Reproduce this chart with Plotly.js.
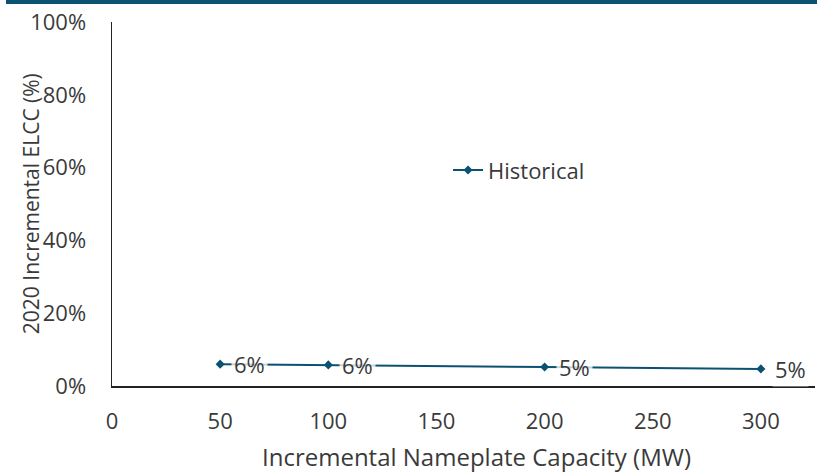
<!DOCTYPE html>
<html>
<head>
<meta charset="utf-8">
<script src="https://cdn.plot.ly/plotly-3.0.1.min.js"></script>
<style>
  html, body { margin: 0; padding: 0; background: #fff; }
  #wrap { position: relative; width: 817px; height: 472px; }
  #topbar { position: absolute; left: 6px; top: 0; width: 811px; height: 4px; background: #0b5272; z-index: 5; }
  #chart { width: 817px; height: 472px; }
</style>
</head>
<body>
<div id="wrap">
  <div id="topbar"></div>
  <div id="chart"></div>
</div>
<script>
// Incremental ELCC by added nameplate capacity
const capacityMW = [50, 100, 200, 300];
const elccPct = [6.0, 5.8, 5.2, 4.7];
const seriesName = 'Historical';
const xTicks = [0, 50, 100, 150, 200, 250, 300];
const yTicks = [0, 20, 40, 60, 80, 100];
const yTickLabels = ['0%', '20%', '40%', '60%', '80%', '100%'];

const lineColor = '#0b5272';
const textColor = '#3a3a3a';
const fontFamily = '"Open Sans", "Noto Sans", sans-serif';

const trace = {
  x: capacityMW,
  y: elccPct,
  name: seriesName,
  type: 'scatter',
  mode: 'lines+markers',
  line: { color: lineColor, width: 2 },
  marker: { symbol: 'diamond', size: 7, color: lineColor },
  showlegend: true
};

// value labels sit to the right of each point on a translucent white box
const valueLabels = capacityMW.map((x, i) => ({
  x: x,
  y: elccPct[i],
  xref: 'x',
  yref: 'y',
  text: Math.round(elccPct[i]) + '%',
  showarrow: false,
  xanchor: 'left',
  yanchor: 'middle',
  xshift: 11,
  bgcolor: 'rgba(255,255,255,0.75)',
  borderpad: 2,
  font: { family: fontFamily, size: 22, color: textColor }
}));

const titles = [
  {
    text: 'Incremental Nameplate Capacity (MW)',
    xref: 'paper', yref: 'paper',
    x: 0.519, y: -0.193,
    xanchor: 'center', yanchor: 'middle',
    showarrow: false,
    font: { family: fontFamily, size: 24, color: textColor }
  },
  {
    text: '2020 Incremental ELCC (%)',
    xref: 'paper', yref: 'paper',
    x: -0.115, y: 0.5,
    xanchor: 'center', yanchor: 'middle',
    textangle: -90,
    showarrow: false,
    font: { family: fontFamily, size: 21, color: textColor }
  }
];

const layout = {
  width: 817,
  height: 472,
  margin: { l: 112, r: 2, t: 22, b: 86 },
  paper_bgcolor: '#ffffff',
  plot_bgcolor: '#ffffff',
  font: { family: fontFamily, size: 22, color: textColor },
  showlegend: true,
  legend: {
    x: 0.478, y: 0.593,
    xanchor: 'left', yanchor: 'middle',
    bgcolor: 'rgba(0,0,0,0)',
    borderwidth: 0,
    font: { family: fontFamily, size: 22, color: textColor }
  },
  xaxis: {
    range: [0, 325],
    tickvals: xTicks,
    ticktext: xTicks.map(String),
    showgrid: false,
    zeroline: false,
    showline: true,
    linecolor: '#222222',
    linewidth: 1.5,
    ticks: '',
    ticklabelstandoff: 15,
    tickfont: { family: fontFamily, size: 22, color: textColor },
    fixedrange: true
  },
  yaxis: {
    range: [0, 100],
    tickvals: yTicks,
    ticktext: yTickLabels,
    showgrid: false,
    zeroline: false,
    showline: true,
    linecolor: '#222222',
    linewidth: 1.5,
    ticks: '',
    ticklabelstandoff: 20,
    tickfont: { family: fontFamily, size: 22, color: textColor },
    fixedrange: true
  },
  annotations: valueLabels.concat(titles)
};

Plotly.newPlot('chart', [trace], layout, { displayModeBar: false, staticPlot: true });
</script>
</body>
</html>
